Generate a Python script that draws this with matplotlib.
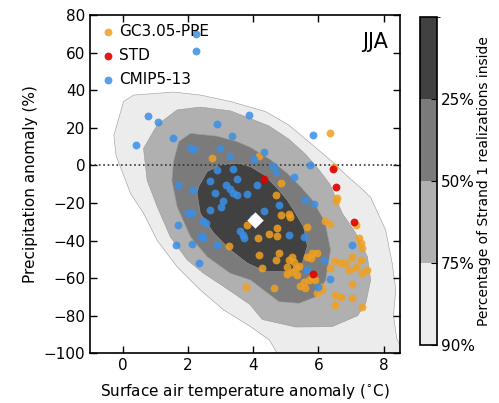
import numpy as np
import matplotlib
matplotlib.use("Agg")
import matplotlib.pyplot as plt
from matplotlib.colors import ListedColormap, BoundaryNorm
import matplotlib.colorbar as mcolorbar

plt.rcParams['font.family'] = ['DejaVu Sans']

# CMIP5-13 ensemble (temperature anomaly degC, precipitation anomaly %)
cmip_t = [2.24, 2.24, 0.77, 1.07, 0.41, 1.54, 2.06, 2.18, 2.90, 3.36, 3.88, 2.97, 3.30,
          4.33, 4.02, 5.82, 5.75, 4.62, 4.70, 2.88, 3.38, 5.25, 2.69, 3.51, 4.12, 1.71,
          3.17, 3.30, 3.38, 3.51, 2.82, 3.82, 2.15, 5.60, 5.86, 4.80, 3.08, 3.00, 2.68,
          2.00, 2.12, 4.34, 4.00, 2.45, 2.55, 1.69, 3.61, 3.68, 3.72, 5.10, 5.55, 2.40,
          2.45, 1.65, 2.13, 2.90, 7.03, 2.33, 6.17, 5.66, 6.37, 6.00]
cmip_p = [70.0, 61.0, 26.0, 23.0, 11.0, 14.4, 9.0, 8.7, 22.0, 15.5, 26.6, 9.2, 4.8,
          7.0, 3.3, 16.0, 0.2, -0.5, -3.5, -2.4, -2.0, -6.4, -8.2, -7.2, -10.2, -10.2,
          -10.4, -12.6, -14.5, -16.0, -14.5, -15.5, -13.0, -18.4, -20.8, -21.1, -19.2, -22.2, -24.0,
          -25.4, -25.3, -24.5, -28.0, -29.5, -30.8, -31.7, -34.8, -36.8, -38.6, -36.8, -38.2, -37.4,
          -38.6, -42.3, -42.0, -42.5, -42.3, -51.9, -50.2, -55.6, -60.6, -64.5]

# GC3.05 perturbed parameter ensemble
ppe_t = [2.75, 4.18, 6.34, 6.47, 4.84, 4.69, 6.55, 6.58, 4.86, 5.09, 5.14, 6.20, 6.37,
         7.16, 3.80, 4.74, 5.66, 4.48, 4.74, 4.15, 3.25, 7.24, 7.29, 7.34, 4.17, 4.79,
         4.71, 5.09, 5.20, 5.25, 5.40, 5.30, 5.05, 5.66, 5.81, 5.96, 5.76, 4.28, 5.81,
         5.91, 5.72, 5.55, 5.45, 5.60, 4.65, 3.78, 6.12, 6.07, 5.96, 6.37, 6.52, 6.68,
         6.83, 7.04, 7.14, 6.93, 7.34, 7.50, 7.29, 6.52, 6.68, 7.04, 6.52, 7.34, 7.02,
         5.20, 5.35, 5.05]
ppe_p = [3.8, 5.0, 17.0, -0.8, -9.4, -16.0, -19.2, -17.6, -26.6, -26.0, -27.6, -29.5, -31.0,
         -31.7, -31.9, -33.2, -32.8, -36.6, -37.6, -38.8, -42.7, -38.8, -41.5, -44.1, -47.7, -46.6,
         -50.5, -50.3, -48.9, -51.2, -53.5, -54.8, -54.2, -48.5, -46.8, -46.6, -49.4, -54.5, -59.6,
         -61.0, -61.2, -62.0, -64.2, -65.4, -65.4, -64.5, -66.3, -64.5, -68.1, -54.8, -50.7, -52.1,
         -51.7, -48.5, -53.9, -55.6, -57.4, -55.6, -50.3, -68.9, -69.8, -70.7, -74.3, -75.5, -63.1,
         -57.0, -58.5, -58.0]

# standard configuration members
std_t = [4.33, 6.45, 6.53, 7.10, 5.82]
std_p = [-7.2, -2.2, -11.6, -30.0, -58.0]

# Strand 1 ensemble mean
mean_t = [4.05]
mean_p = [-29.0]

# outlines of the Strand 1 density regions (90%, 75%, 50%, 25%)
region_90 = [(-0.27, 16), (0.03, 34), (0.34, 37.4), (1.56, 39), (2.38, 37.4), (3.3, 34),
             (3.9, 31), (4.38, 28.6), (5.09, 21.5), (5.81, 11), (6.42, 2), (6.9, -6),
             (7.3, -12), (7.6, -17), (8.06, -34.4), (8.26, -52), (8.37, -66), (8.3, -80),
             (8.4, -92), (8.6, -100), (8.7, -105), (4.9, -105), (4.5, -93), (3.92, -85.8),
             (3.1, -77), (2.38, -66.3), (1.67, -54), (1.06, -40), (0.64, -25.5),
             (0.24, -15), (0.09, -8), (-0.2, 5)]
region_75 = [(0.64, 9), (1.06, 21.5), (1.67, 29.5), (2.38, 31), (3.3, 29), (3.9, 25),
             (4.48, 21), (5.09, 14), (5.6, 6), (6.0, -2), (6.35, -10), (6.73, -25.5),
             (7.14, -36), (7.5, -48.6), (7.6, -61), (7.45, -73.4), (7.2, -80), (6.42, -85.8),
             (5.3, -86), (4.28, -82), (3.9, -74), (3.1, -64.5), (2.48, -57.4), (1.98, -50.3),
             (1.46, -38), (1.06, -22), (0.75, -8)]
region_50 = [(1.56, 2), (1.72, 12.6), (2.08, 17), (2.9, 15.5), (3.51, 12.6), (3.92, 9.5),
             (4.53, 3), (5.04, -4.2), (5.45, -11.3), (5.81, -18.4), (6.2, -30), (6.37, -45),
             (6.22, -61), (5.91, -70), (5.4, -73.4), (4.79, -72.5), (3.92, -61), (3.3, -57.4),
             (2.59, -48.6), (2.08, -38), (1.67, -22), (1.51, -8)]
region_25 = [(2.33, -11.3), (2.59, -3.3), (3.0, 0.2), (3.51, 1.1), (3.92, -0.7), (4.33, -5),
             (4.74, -12.2), (5.04, -18.4), (5.3, -25.5), (5.55, -33), (5.66, -43), (5.5, -52),
             (5.09, -56.5), (4.38, -56.5), (3.82, -52), (3.3, -45), (2.79, -36), (2.38, -25.5),
             (2.28, -14.8)]

levels = [0, 25, 50, 75, 90]
shades = ['#414141', '#7b7b7b', '#b0b0b0', '#ececec']

fig = plt.figure(figsize=(4.99, 4.03), dpi=100)
ax = fig.add_axes([0.1804, 0.1233, 0.6212, 0.8395])

regions = [region_90, region_75, region_50, region_25]
for reg, col in zip(regions, shades[::-1]):
    xs, ys = zip(*reg)
    ax.fill(xs, ys, facecolor=col, edgecolor='#999999', linewidth=0.4, zorder=1)

ax.axhline(0, color='#333333', linestyle=':', linewidth=1.2, zorder=2)

ax.scatter(ppe_t, ppe_p, s=32, color='#f0a020', alpha=0.85, linewidths=0, label='GC3.05-PPE', zorder=3)
ax.scatter(std_t, std_p, s=32, color='#e00000', alpha=0.9, linewidths=0, label='STD', zorder=4)
ax.scatter(cmip_t, cmip_p, s=32, color='#3a8fe6', alpha=0.85, linewidths=0, label='CMIP5-13', zorder=3)
ax.scatter(mean_t, mean_p, s=70, marker='D', color='white', linewidths=0, zorder=5)

ax.set_xlim(-1, 8.5)
ax.set_ylim(-100, 80)
ax.set_xticks([0, 2, 4, 6, 8])
ax.set_yticks(np.arange(-100, 81, 20))
ax.tick_params(direction='in', top=True, right=True, length=5, width=1, labelsize=11)
for sp in ax.spines.values():
    sp.set_linewidth(1.2)
ax.set_xlabel('Surface air temperature anomaly ($^{\\circ}$C)', fontsize=11, labelpad=6)
ax.set_ylabel('Precipitation anomaly (%)', fontsize=11)
ax.text(0.96, 0.92, 'JJA', transform=ax.transAxes, ha='right', va='center', fontsize=15)

leg = ax.legend(loc='upper left', frameon=False, scatterpoints=1, fontsize=11,
                handletextpad=0.1, labelspacing=0.6, borderaxespad=0.2, handlelength=1.2)

# colour key for the density regions
cax = fig.add_axes([0.8417, 0.144, 0.034, 0.814])
cmap = ListedColormap(shades)
norm = BoundaryNorm(levels, cmap.N)
cb = mcolorbar.ColorbarBase(cax, cmap=cmap, norm=norm, boundaries=levels,
                            spacing='uniform', ticks=[25, 50, 75, 90])
cb.ax.invert_yaxis()
cb.ax.set_yticklabels(['25%', '50%', '75%', '90%'])
cb.ax.tick_params(direction='in', length=4, labelsize=11, pad=3)
cb.outline.set_linewidth(1.2)
cb.set_label('Percentage of Strand 1 realizations inside', fontsize=10, labelpad=1)

fig.savefig('out.png', dpi=100)
